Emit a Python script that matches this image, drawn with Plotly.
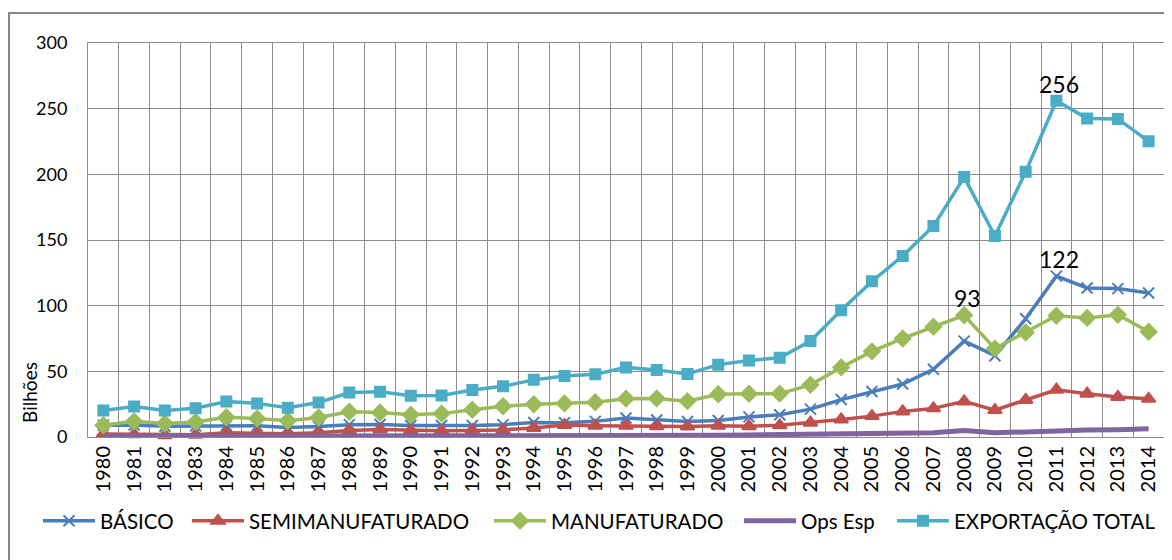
import plotly.graph_objects as go

anos = [str(a) for a in range(1980, 2015)]

basico = [9.0, 9.2, 8.2, 8.5, 8.7, 8.5, 7.3, 8.0, 9.4, 9.5, 8.7, 8.7, 8.8, 9.4, 11.1,
          10.9, 11.9, 14.5, 12.9, 11.8, 12.6, 15.3, 16.9, 21.2, 28.5, 34.7, 40.3, 51.6,
          73.0, 61.9, 90.0, 122.5, 113.5, 113.0, 109.6]
semimanufaturado = [2.3, 2.1, 1.4, 1.8, 3.3, 2.8, 2.5, 3.2, 4.9, 5.8, 5.1, 4.7, 5.0, 5.4, 6.9,
                    9.1, 8.6, 8.5, 8.1, 7.9, 8.5, 8.2, 8.9, 10.9, 13.4, 15.9, 19.5, 21.8,
                    27.1, 20.5, 28.2, 36.0, 33.0, 30.5, 29.1]
manufaturado = [9.0, 11.9, 10.3, 11.5, 15.1, 14.1, 12.4, 14.9, 19.2, 18.6, 17.0, 17.8, 20.8, 23.4,
                24.9, 25.6, 26.4, 29.2, 29.4, 27.3, 32.5, 32.9, 33.0, 39.7, 53.0, 65.2, 75.0,
                83.9, 92.7, 67.3, 79.6, 92.3, 90.7, 93.1, 80.2]
ops_esp = [0.5, 0.5, 0.5, 0.6, 0.6, 0.6, 0.6, 0.6, 0.7, 0.7, 0.7, 0.7, 0.8, 0.8, 0.8,
           0.9, 0.9, 1.0, 1.0, 1.0, 1.3, 1.5, 1.7, 1.7, 2.3, 2.3, 3.1, 3.3,
           5.0, 3.2, 3.9, 5.0, 5.3, 5.5, 6.2]
exportacao_total = [20.1, 23.3, 20.2, 21.9, 27.0, 25.6, 22.3, 26.2, 33.8, 34.4, 31.4, 31.6, 35.8,
                    38.6, 43.5, 46.5, 47.7, 53.0, 51.1, 48.0, 55.1, 58.2, 60.4, 73.1, 96.5,
                    118.5, 137.8, 160.6, 197.9, 153.0, 201.9, 256.0, 242.6, 242.2, 225.1]

# rótulos de dados: (ano, série)
rotulos = [("2011", exportacao_total), ("2011", basico), ("2008", manufaturado)]

FONTE = "Lato"
GRADE = "#8C8C8C"

# (nome, valores, cor, símbolo, tamanho, início da legenda em px da figura)
series = [
    ("BÁSICO", basico, "#4A7EBB", "x-thin", 11, 30),
    ("SEMIMANUFATURADO", semimanufaturado, "#C0504D", "triangle-up", 12, 179),
    ("MANUFATURADO", manufaturado, "#9BBB59", "diamond", 12, 481),
    ("Ops Esp", ops_esp, "#8064A2", None, 0, 731),
    ("EXPORTAÇÃO TOTAL", exportacao_total, "#4BACC6", "square", 10, 884),
]

L, PW, T, PH = 80, 1076, 35, 394

fig = go.Figure()
legendas = {}
for i, (nome, valores, cor, simbolo, tam, xleg) in enumerate(series):
    if simbolo:
        marker = dict(symbol=simbolo, size=tam, color=cor,
                      line=dict(color=cor, width=2))
        modo = "lines+markers"
    else:
        marker = None
        modo = "lines"
    chave = "legend" if i == 0 else f"legend{i + 1}"
    fig.add_trace(go.Scatter(
        x=anos, y=valores, name=nome, mode=modo,
        line=dict(color=cor, width=5 if simbolo is None else 3.5),
        marker=marker, cliponaxis=False, legend=chave,
    ))
    legendas[chave] = dict(
        orientation="h", x=(xleg - L) / PW, xanchor="left",
        y=(T + PH - 513) / PH, yanchor="middle",
        font=dict(size=20.5, family=FONTE), itemwidth=52,
        bgcolor="rgba(0,0,0,0)",
    )

anotacoes = [dict(text="Bilhões", xref="paper", yref="paper",
                  x=-0.0539, y=0.112, xanchor="center", yanchor="middle",
                  textangle=-90, showarrow=False,
                  font=dict(size=19, family=FONTE))]
for ano, valores in rotulos:
    idx = anos.index(ano)  # eixo de categorias: posição pelo índice
    v = valores[idx]
    anotacoes.append(dict(text=f"{v:.0f}", x=idx, y=v, xref="x", yref="y",
                          showarrow=False, xanchor="center", yanchor="middle",
                          xshift=3, yshift=17,
                          font=dict(size=23, family=FONTE, color="#000000")))

# a página tem margem de 8 px no body: a figura é 8 px menor e as margens compensam
fig.update_layout(
    width=1164, height=552,
    paper_bgcolor="white", plot_bgcolor="white",
    margin=dict(l=L, r=8, t=T, b=552 - T - PH),
    font=dict(family=FONTE, color="#000000"),
    showlegend=True,
    xaxis=dict(
        type="category", range=[-0.5, 34.5],
        tickson="boundaries", showgrid=True, gridcolor=GRADE, gridwidth=1,
        showline=True, linecolor=GRADE, linewidth=1, mirror=True,
        ticks="", tickangle=-90, tickfont=dict(size=20, family=FONTE),
    ),
    yaxis=dict(
        range=[0, 300], dtick=50, showgrid=True, gridcolor=GRADE, gridwidth=1,
        showline=True, linecolor=GRADE, linewidth=1, zeroline=False,
        ticks="", ticklabelstandoff=16,
        tickfont=dict(size=18, family=FONTE),
    ),
    shapes=[dict(type="rect", xref="paper", yref="paper",
                 x0=-0.0734, x1=1.02, y0=-0.35, y1=1.0761,
                 line=dict(color="#868686", width=2), layer="below")],
    annotations=anotacoes,
    **legendas,
)

fig.write_html("out.html")
